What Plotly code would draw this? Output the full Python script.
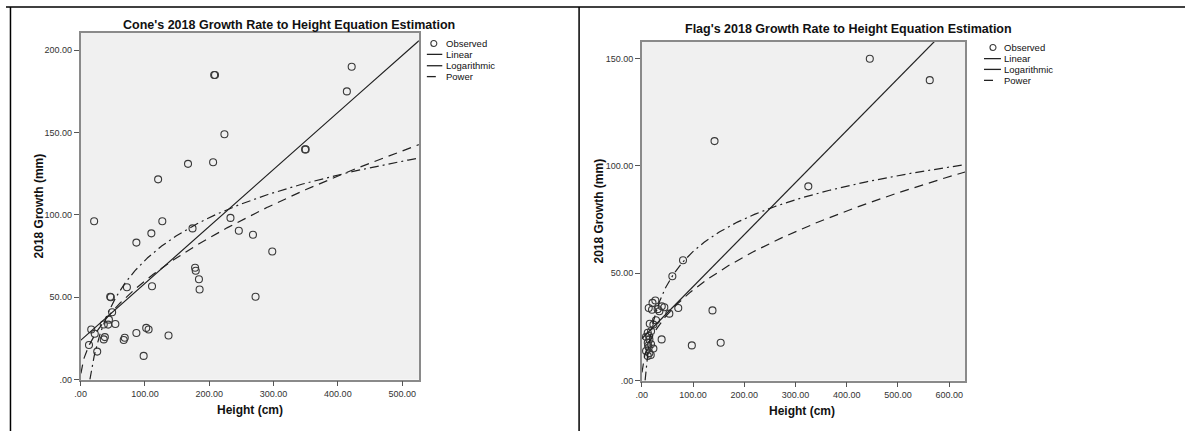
import numpy as np
import plotly.graph_objects as go

W, H = 1185, 436

# ---------------- data ----------------
cone_height = [21, 127, 110, 86.7, 174, 233, 246, 268, 298, 72, 111, 178, 179, 184, 185, 272,
               46, 47, 49, 44, 42.8, 36, 54, 16.5, 22, 13, 25.8, 37.7, 36, 68.6, 67, 86.7,
               102, 105.7, 136.7, 98, 207.7, 209, 223.6, 167, 206, 120.5, 421.5, 414, 349, 350]
cone_growth = [96.2, 96.2, 88.8, 83.2, 91.8, 98.2, 90.4, 88, 77.8, 56.1, 56.7, 67.9, 66.1, 60.9, 54.7, 50.3,
               50.3, 50, 40.9, 36.4, 33.4, 33.5, 33.8, 30.4, 27.8, 21, 17, 25.8, 24.4, 25.4, 24, 28.3,
               31.4, 30.4, 26.8, 14.4, 185, 185, 149, 131, 132, 121.6, 190, 175, 139.8, 139.8]

flag_height = [26.5, 13.6, 20, 31, 44, 34.3, 53.8, 27.8, 22.7, 18.1, 11.7, 8.4, 14.9, 11.7, 18.1, 13.6,
               22.7, 8.4, 14.9, 11.7, 38.8, 71.2, 138, 97.7, 154, 59.7, 80.5, 142, 325, 445, 562,
               21, 39, 15.6, 14.3, 12.3, 17.5]
flag_growth = [37.3, 33.8, 33, 33.3, 34.2, 32.3, 31.2, 28.1, 26.1, 23, 22.3, 20.4, 19.2, 17.6, 16.9, 15.4,
               14.9, 13.8, 12.8, 11.5, 19.2, 33.8, 32.7, 16.4, 17.6, 48.6, 56.1, 111.6, 90.5, 150, 140,
               36.2, 34.6, 26.5, 20.8, 16.2, 11.9]

# fitted model coefficients
cone_linear = [23.8, 0.346]        # b0 + b1*x
cone_log = [-99.8, 37.4]           # b0 + b1*ln(x)
cone_power = [5.42, 0.522]         # b0 * x^b1
flag_linear = [19.5, 0.2425]
flag_log = [-41.2, 22.0]
flag_power = [5.24, 0.453]

cone_xticks = [0, 100, 200, 300, 400, 500]
cone_xtext = [".00", "100.00", "200.00", "300.00", "400.00", "500.00"]
cone_yticks = [0, 50, 100, 150, 200]
cone_ytext = [".00", "50.00", "100.00", "150.00", "200.00"]
flag_xticks = [0, 100, 200, 300, 400, 500, 600]
flag_xtext = [".00", "100.00", "200.00", "300.00", "400.00", "500.00", "600.00"]
flag_yticks = [0, 50, 100, 150]
flag_ytext = [".00", "50.00", "100.00", "150.00"]

legend_labels = ["Observed", "Linear", "Logarithmic", "Power"]

# ---------------- helpers ----------------
def px(x):
    return x / W

def py(y):
    return (H - y) / H

FONT = "Arial, Liberation Sans, sans-serif"
INK = "#222222"
LINE_W = 1.2
LOG_DASH = "9px,4px,2px,4px"
POW_DASH = "9px,6px"

fig = go.Figure()

def add_panel(xs, ys, lin, lg, pw, xmax, xa, ya):
    fig.add_trace(go.Scatter(x=xs, y=ys, mode="markers", xaxis=xa, yaxis=ya,
                             marker=dict(symbol="circle-open", size=7, color="#3a3a3a",
                                         line=dict(width=1.1, color="#3a3a3a")),
                             showlegend=False, hoverinfo="x+y"))
    xl = np.linspace(0, xmax, 200)
    fig.add_trace(go.Scatter(x=xl, y=lin[0] + lin[1] * xl, mode="lines", xaxis=xa, yaxis=ya,
                             line=dict(color=INK, width=LINE_W), showlegend=False))
    x0 = np.exp(-lg[0] / lg[1])
    xg = np.linspace(x0, xmax, 400)
    fig.add_trace(go.Scatter(x=xg, y=lg[0] + lg[1] * np.log(xg), mode="lines", xaxis=xa, yaxis=ya,
                             line=dict(color=INK, width=LINE_W, dash=LOG_DASH), showlegend=False))
    xp = np.linspace(0.5, xmax, 400)
    fig.add_trace(go.Scatter(x=xp, y=pw[0] * xp ** pw[1], mode="lines", xaxis=xa, yaxis=ya,
                             line=dict(color=INK, width=LINE_W, dash=POW_DASH), showlegend=False))

add_panel(cone_height, cone_growth, cone_linear, cone_log, cone_power, 526, "x", "y")
add_panel(flag_height, flag_growth, flag_linear, flag_log, flag_power, 631, "x2", "y2")

axis_common = dict(showgrid=False, zeroline=False, showline=True, mirror=True,
                   linecolor="#8a8a8a", linewidth=1.5, ticks="outside", ticklen=5,
                   tickcolor="#555555", tickwidth=1,
                   tickfont=dict(family=FONT, size=9, color="#333333"))

fig.update_layout(
    width=W, height=H, margin=dict(l=0, r=0, t=0, b=0),
    paper_bgcolor="white", plot_bgcolor="#f0f0f0", showlegend=False,
    xaxis=dict(domain=[px(75), px(415)], range=[0, 526], anchor="y",
               tickvals=cone_xticks, ticktext=cone_xtext, **axis_common),
    yaxis=dict(domain=[py(384), py(33)], range=[0, 210.7], anchor="x",
               tickvals=cone_yticks, ticktext=cone_ytext, **axis_common),
    xaxis2=dict(domain=[px(639), px(964)], range=[0, 631], anchor="y2",
                tickvals=flag_xticks, ticktext=flag_xtext, **axis_common),
    yaxis2=dict(domain=[py(385), py(42)], range=[0, 158], anchor="x2",
                tickvals=flag_yticks, ticktext=flag_ytext, **axis_common),
)

ann = []
def text(x, y, s, size, bold=False, xanchor="center", angle=0):
    ann.append(dict(x=px(x), y=py(y), xref="paper", yref="paper", text=("<b>%s</b>" % s) if bold else s,
                    showarrow=False, xanchor=xanchor, yanchor="middle", textangle=angle,
                    font=dict(family=FONT, size=size, color="#111111")))

# titles
text(284, 25, "Cone's 2018 Growth Rate to Height Equation Estimation", 12.5, True)
text(847, 29.5, "Flag's 2018 Growth Rate to Height Equation Estimation", 12.5, True)
text(245, 415, "Height (cm)", 12, True)
text(800, 416, "Height (cm)", 12, True)
text(33, 208, "2018 Growth (mm)", 12, True, angle=-90)
text(596, 213, "2018 Growth (mm)", 12, True, angle=-90)

shapes = []
def hline(x0, x1, y, dash="solid", w=1.3, color=INK):
    shapes.append(dict(type="line", xref="paper", yref="paper", x0=px(x0), x1=px(x1), y0=py(y), y1=py(y),
                       line=dict(color=color, width=w, dash=dash)))

def legend(mx, lx0, lx1, tx, ys):
    shapes.append(dict(type="circle", xref="paper", yref="paper", xsizemode="pixel", ysizemode="pixel",
                       xanchor=px(mx), yanchor=py(ys[0]), x0=-3, x1=3, y0=-3, y1=3,
                       line=dict(color="#3a3a3a", width=1.1)))
    hline(lx0, lx1, ys[1])
    hline(lx0, lx1, ys[2])
    hline(lx0, lx0 + 9, ys[3])
    for lab, yy in zip(legend_labels, ys):
        text(tx, yy, lab, 9.5, xanchor="left")

legend(430, 423, 438.5, 440, [44, 55, 66.5, 77.5])
legend(992, 983, 1000, 1001, [48, 59.3, 70.2, 81.3])

# table frame lines
shapes.append(dict(type="line", xref="paper", yref="paper", x0=px(0), x1=px(W), y0=py(7), y1=py(7),
                   line=dict(color="black", width=1.5)))
shapes.append(dict(type="line", xref="paper", yref="paper", x0=px(4.5), x1=px(4.5), y0=py(7), y1=py(H),
                   line=dict(color="black", width=1.5)))
shapes.append(dict(type="line", xref="paper", yref="paper", x0=px(576), x1=px(576), y0=py(7), y1=py(H),
                   line=dict(color="black", width=1.5)))

fig.update_layout(annotations=ann, shapes=shapes)
fig.write_html("out.html")
